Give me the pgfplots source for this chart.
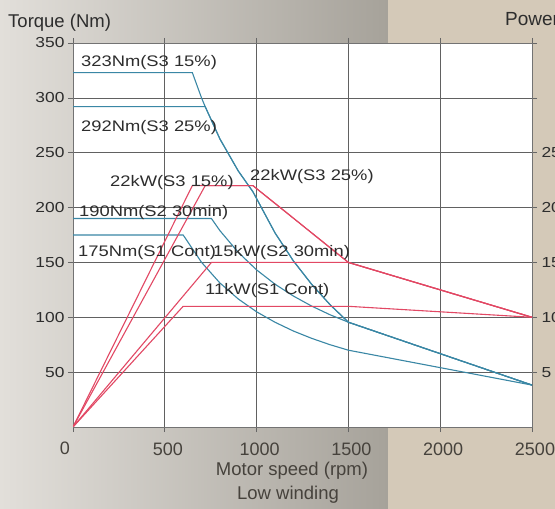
\documentclass[border=0pt]{standalone}
\usepackage{pgfplots}
\pgfplotsset{compat=1.18}
\usepackage{fontspec}
\setmainfont{Liberation Sans}
\newfontfamily\wide{Liberation Sans}[FakeStretch=1.2]
\definecolor{bluec}{RGB}{58,135,165}
\definecolor{redc}{RGB}{226,72,100}
\definecolor{bgl}{RGB}{226,223,218}
\definecolor{bgm}{RGB}{166,162,154}
\definecolor{bgr}{RGB}{212,201,184}
\definecolor{txt}{RGB}{45,45,45}
\definecolor{lbl}{RGB}{70,66,60}
\begin{document}
\begin{tikzpicture}
\path[use as bounding box] (0,0) rectangle (555pt,509pt);
\shade[left color=bgl, right color=bgm] (0,0) rectangle (388pt,509pt);
\fill[bgr] (388pt,0) rectangle (555pt,509pt);
\begin{axis}[
  at={(73pt,82pt)}, anchor=south west,
  scale only axis, width=459pt, height=384pt,
  xmin=0, xmax=2500, ymin=0, ymax=350,
  xtick={0,500,...,2500}, ytick={50,100,...,350},
  xticklabels={,500,1000,1500,2000,2500},
  grid=major,
  major grid style={draw=black!62, line width=0.7pt},
  axis line style={draw=black!55, line width=0.7pt},
  tick align=outside, major tick length=5pt,
  tick style={draw=black!60, line width=0.7pt},
  axis background/.style={fill=white},
  /pgf/number format/assume math mode=true,
  /pgf/number format/1000 sep={},
  yticklabel style={font=\wide\fontsize{14.5}{15}\selectfont, text=txt},
  xticklabel style={font=\fontsize{18}{19}\selectfont, text=lbl, yshift=-7pt, xshift=3pt},
]
% torque curves (Nm)
\addplot[bluec, line width=1.1pt] coordinates {(0,323) (650,323) (700,300) (720,292) (800,262.6) (900,233.4) (980,214.4) (1100,177) (1200,151.5) (1300,130) (1400,111.5) (1500,95.5) (2500,38.2)};
\addplot[bluec, line width=1.1pt] coordinates {(0,292) (720,292) (800,262.6) (900,233.4) (980,214.4) (1100,177) (1200,151.5) (1300,130) (1400,111.5) (1500,95.5) (2500,38.2)};
\addplot[bluec, line width=1.1pt] coordinates {(0,190) (754,190) (800,179) (900,159.2) (1000,143.2) (1100,130.2) (1200,119.4) (1300,110.2) (1400,102.3) (1500,95.5) (2500,38.2)};
\addplot[bluec, line width=1.1pt] coordinates {(0,175) (600,175) (700,150.1) (800,131.3) (900,116.7) (1000,105) (1100,95.5) (1200,87.5) (1300,80.8) (1400,75) (1500,70) (2500,38.2)};
% power curves (kW x 10)
\addplot[redc, line width=1.1pt] coordinates {(0,0) (650,220) (980,220) (1500,150) (2500,100)};
\addplot[redc, line width=1.1pt] coordinates {(0,0) (720,220) (980,220) (1500,150) (2500,100)};
\addplot[redc, line width=1.1pt] coordinates {(0,0) (754,150) (1500,150) (2500,100)};
\addplot[redc, line width=1.1pt] coordinates {(0,0) (600,110) (1500,110) (2500,100)};
\end{axis}
\begin{axis}[
  at={(73pt,82pt)}, anchor=south west,
  scale only axis, width=459pt, height=384pt,
  xmin=0, xmax=2500, ymin=0, ymax=35,
  axis x line=none, axis y line*=right,
  y axis line style={draw=none},
  ytick={5,10,15,20,25}, major tick length=0pt, ytick style={draw=none},
  /pgf/number format/assume math mode=true,
  yticklabel style={font=\wide\fontsize{14.5}{15}\selectfont, text=txt, xshift=6pt},
]
\addplot[draw=none] coordinates {(0,0)};
\end{axis}
\begin{scope}[every node/.style={inner sep=0pt, anchor=base west, text=txt, font=\wide\fontsize{15.3}{16}\selectfont}]
\node at (81pt,442pt) {323Nm(S3 15\%)};
\node at (81pt,377pt) {292Nm(S3 25\%)};
\node at (110pt,322pt) {22kW(S3 15\%)};
\node at (250pt,328pt) {22kW(S3 25\%)};
\node at (79pt,292pt) {190Nm(S2 30min)};
\node at (78pt,252pt) {175Nm(S1 Cont)};
\node at (213pt,252pt) {15kW(S2 30min)};
\node at (205pt,214pt) {11kW(S1 Cont)};
\end{scope}
\node[inner sep=0pt, anchor=base, text=lbl, font=\fontsize{18}{19}\selectfont] at (65pt,54pt) {0};
\node[inner sep=0pt, anchor=base west, text=txt, font=\fontsize{18.5}{19}\selectfont] at (8pt,481pt) {Torque (Nm)};
\node[inner sep=0pt, anchor=base west, text=txt, font=\fontsize{19}{20}\selectfont] at (505pt,483pt) {Power (kW)};
\node[inner sep=0pt, anchor=base, text=lbl, font=\fontsize{18.5}{19}\selectfont] at (292pt,33pt) {Motor speed (rpm)};
\node[inner sep=0pt, anchor=base, text=lbl, font=\fontsize{18.5}{19}\selectfont] at (288pt,9pt) {Low winding};
\end{tikzpicture}
\end{document}
